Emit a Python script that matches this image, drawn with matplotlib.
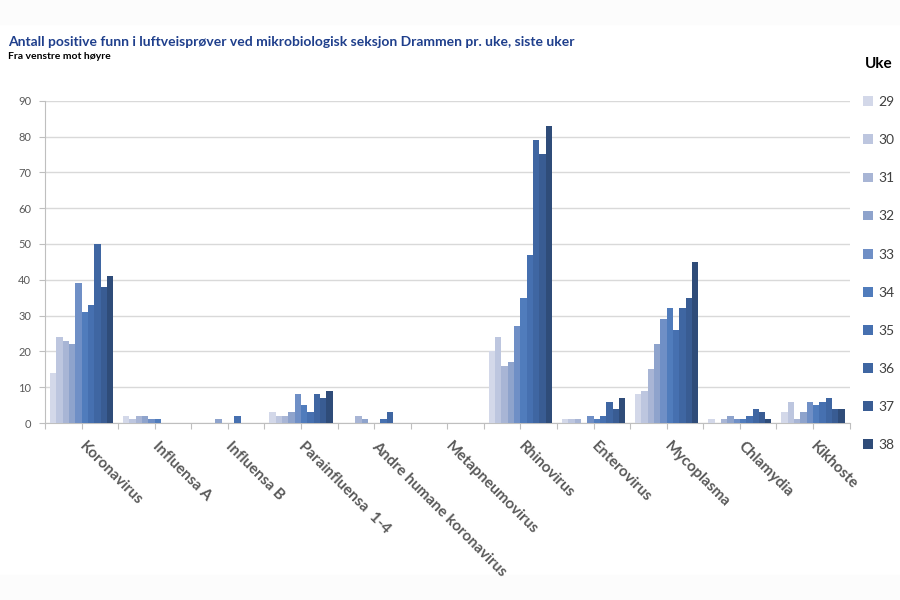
import numpy as np
import matplotlib
matplotlib.use("Agg")
from matplotlib import pyplot as plt
from matplotlib.patches import Rectangle

plt.rcParams['font.family'] = ['Lato', 'DejaVu Sans']

# Kategorier (fra venstre mot høyre)
categories = ['Koronavirus', 'Influensa A', 'Influensa B', 'Parainfluensa  1-4',
              'Andre humane koronavirus', 'Metapneumovirus', 'Rhinovirus',
              'Enterovirus', 'Mycoplasma', 'Chlamydia', 'Kikhoste']
weeks = ['29', '30', '31', '32', '33', '34', '35', '36', '37', '38']

# antall positive funn per uke, en liste per kategori
koronavirus = [14, 24, 23, 22, 39, 31, 33, 50, 38, 41]
influensa_a = [2, 1, 2, 2, 1, 1, 0, 0, 0, 0]
influensa_b = [0, 0, 0, 1, 0, 0, 2, 0, 0, 0]
parainfluensa = [3, 2, 2, 3, 8, 5, 3, 8, 7, 9]
andre_koronavirus = [0, 0, 2, 1, 0, 0, 1, 3, 0, 0]
metapneumovirus = [0, 0, 0, 0, 0, 0, 0, 0, 0, 0]
rhinovirus = [20, 24, 16, 17, 27, 35, 47, 79, 75, 83]
enterovirus = [1, 1, 1, 0, 2, 1, 2, 6, 4, 7]
mycoplasma = [8, 9, 15, 22, 29, 32, 26, 32, 35, 45]
chlamydia = [1, 0, 1, 2, 1, 1, 2, 4, 3, 1]
kikhoste = [3, 6, 1, 3, 6, 5, 6, 7, 4, 4]

week_colors = ['#d3d8e9', '#bdc6df', '#a8b5d5', '#8ea3cc', '#6f8fc6',
               '#507cbc', '#4670b0', '#3f66a2', '#395c93', '#2f4c79']

data = np.array([koronavirus, influensa_a, influensa_b, parainfluensa,
                 andre_koronavirus, metapneumovirus, rhinovirus, enterovirus,
                 mycoplasma, chlamydia, kikhoste])

fig = plt.figure(figsize=(9, 6), dpi=100)
fig.patches.append(Rectangle((0, 0.96), 1, 0.04, transform=fig.transFigure,
                             color='#fcfcfc', zorder=-1))
fig.patches.append(Rectangle((0, 0), 1, 0.042, transform=fig.transFigure,
                             color='#fcfcfc', zorder=-1))
ax = fig.add_axes([0.05, 0.295, 0.894, 0.537])

n_cat = len(categories)
n_w = len(weeks)
group_w = 0.864
bar_w = group_w / n_w
x = np.arange(n_cat)
for i in range(n_w):
    ax.bar(x - group_w / 2 + bar_w * (i + 0.5), data[:, i], width=bar_w,
           color=week_colors[i], label=weeks[i], zorder=3, linewidth=0)

ax.set_xlim(-0.5, n_cat - 0.5)
ax.set_ylim(0, 90)
ax.set_yticks(np.arange(0, 91, 10))
ax.yaxis.grid(True, color='#d9d9d9', linewidth=1)
ax.set_axisbelow(True)
for s in ['top', 'right']:
    ax.spines[s].set_visible(False)
ax.spines['left'].set_color('#bfbfbf')
ax.spines['bottom'].set_color('#bfbfbf')
ax.tick_params(axis='y', colors='#bfbfbf', labelcolor='#595959', labelsize=8,
               length=4, pad=6)

# tick marks at category boundaries and centres, as in the original
ax.set_xticks(np.arange(-0.5, n_cat, 0.5))
ax.set_xticklabels([])
ax.tick_params(axis='x', colors='#bfbfbf', length=4)
for xi, name in zip(x, categories):
    ax.text(xi, -6, name, rotation=-45, rotation_mode='anchor', ha='left',
            va='center', fontsize=11, fontweight='bold', color='#595959',
            transform=ax.transData, clip_on=False)

fig.text(0.009, 0.923, 'Antall positive funn i luftveisprøver ved mikrobiologisk seksjon Drammen pr. uke, siste uker',
         fontsize=10, fontweight='bold', color='#1f3f8c')
fig.text(0.009, 0.902, 'Fra venstre mot høyre', fontsize=7.5, fontweight='bold',
         color='black')

leg = ax.legend(loc='upper left', bbox_to_anchor=(0.953, 0.915), bbox_transform=fig.transFigure,
                frameon=False, title='Uke', fontsize=10, handlelength=0.7,
                handleheight=0.7, handletextpad=0.4, labelspacing=1.88,
                borderaxespad=0)
leg.get_title().set_fontweight('bold')
leg.get_title().set_fontsize(11)
leg._legend_box.sep = 18.4
for t in leg.get_texts():
    t.set_color('#404040')

fig.savefig('out.png', dpi=100)
